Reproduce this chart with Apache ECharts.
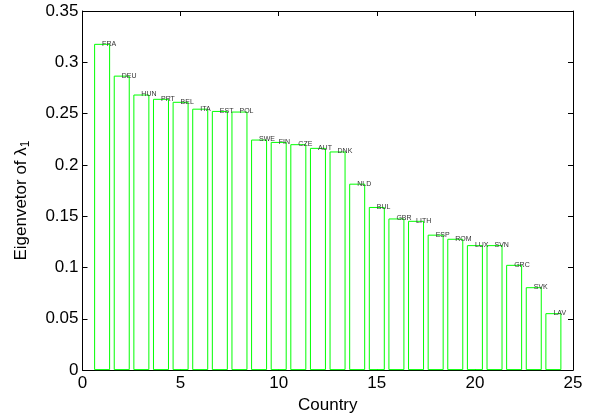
<!DOCTYPE html>
<html><head><meta charset="utf-8">
<script src="https://cdn.jsdelivr.net/npm/echarts@6/dist/echarts.min.js"></script>
<style>html,body{margin:0;padding:0;background:#fff}#c{width:597px;height:419px}</style>
</head><body><div id="c"></div>
<script>
const countries = ['FRA','DEU','HUN','PRT','BEL','ITA','EST','POL','SWE','FIN','CZE','AUT','DNK','NLD','BUL','GBR','LITH','ESP','ROM','LUX','SVN','GRC','SVK','LAV'];
const positions = [1,2,3,4,5,6,7,8,9,10,11,12,13,14,15,16,17,18,19,20,21,22,23,24];
const values = [0.318,0.287,0.2686,0.2644,0.2615,0.2548,0.2526,0.252,0.2247,0.2224,0.2202,0.2166,0.2131,0.1817,0.159,0.1478,0.1455,0.132,0.128,0.1218,0.1218,0.1026,0.0808,0.0555];
const xTicks = [0,5,10,15,20,25];
const yTicks = [0,0.05,0.1,0.15,0.2,0.25,0.3,0.35];

const chart = echarts.init(document.getElementById('c'));
const font = 'Liberation Sans, Arial, Helvetica, sans-serif';
const data = positions.map((p,i)=>({value:[p, values[i]], name: countries[i]}));
const axisCommon = {
  axisLine:{show:true, onZero:false, lineStyle:{color:'#000', width:1}},
  axisTick:{show:true, inside:true, length:5, lineStyle:{color:'#000'}},
  splitLine:{show:false}
};
chart.setOption({
  animation:false,
  grid:{left:82.5, right:24, top:11, bottom:43, containLabel:false},
  xAxis:[
    Object.assign({type:'value', min:xTicks[0], max:xTicks[xTicks.length-1], interval:5, position:'bottom',
      name:'Country', nameLocation:'middle', nameGap:24,
      nameTextStyle:{fontFamily:font, fontSize:17, color:'#000'},
      axisLabel:{fontFamily:font, fontSize:17, color:'#000', margin:5}}, axisCommon),
    Object.assign({type:'value', min:xTicks[0], max:xTicks[xTicks.length-1], interval:5, position:'top',
      axisLabel:{show:false}}, axisCommon)
  ],
  yAxis:[
    Object.assign({type:'value', min:yTicks[0], max:yTicks[yTicks.length-1], interval:0.05, position:'left',
      name:'Eigenvetor of {l|λ}{s|1}', nameLocation:'middle', nameGap:51, nameRotate:90,
      nameTextStyle:{fontFamily:font, fontSize:17, color:'#000', padding:[0,20,0,0],
        rich:{l:{fontFamily:font, fontSize:17, color:'#000'}, s:{fontFamily:font, fontSize:12, color:'#000', verticalAlign:'bottom', padding:[9,0,0,0]}}},
      axisLabel:{fontFamily:font, fontSize:17, color:'#000', margin:4,
        formatter:v=>String(Math.round(v*100)/100)}}, axisCommon),
    Object.assign({type:'value', min:yTicks[0], max:yTicks[yTicks.length-1], interval:0.05, position:'right',
      axisLabel:{show:false}}, axisCommon)
  ],
  series:[{
    type:'bar', xAxisIndex:0, yAxisIndex:0, data:data, barWidth:16,
    itemStyle:{color:'#fff', borderColor:'#00ff00', borderWidth:1},
    label:{show:true, position:['50%',0], align:'left', verticalAlign:'middle',
      formatter:p=>p.name, fontFamily:font, fontSize:7, color:'#333'},
    emphasis:{disabled:true}
  }]
});
</script></body></html>
